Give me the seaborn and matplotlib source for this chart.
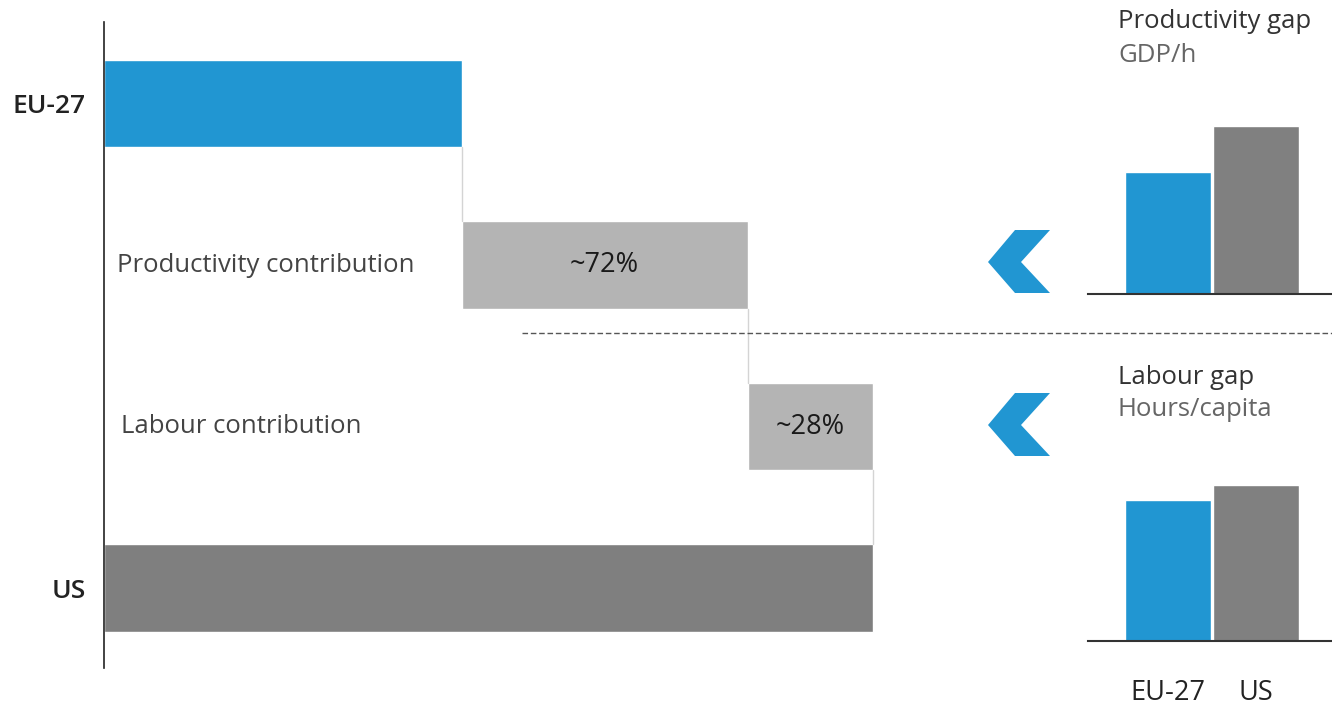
import numpy as np
import matplotlib.pyplot as plt
import seaborn as sns
from matplotlib.patches import Polygon

# waterfall: EU-27 -> US (US level = 100)
steps = ['EU-27', 'Productivity contribution', 'Labour contribution', 'US']
step_values = [46.5, 37.2, 16.3, 100.0]
step_labels = ['', '~72%', '~28%', '']

# small panels on the right
countries = ['EU-27', 'US']
gdp_per_hour = [72.6, 100.0]
hours_per_capita = [83.9, 92.9]

blue = '#2196d2'
dark_grey = '#808080'
light_grey = '#b4b4b4'

sns.set_theme(style='white')
plt.rcParams['font.family'] = ['Open Sans', 'DejaVu Sans']

W, H = 1332, 707
fig = plt.figure(figsize=(W / 100, H / 100), dpi=100)


def px_box(x0, y0, x1, y1):
    # pixel box (top-left origin) -> figure fraction
    return [x0 / W, 1 - y1 / H, (x1 - x0) / W, (y1 - y0) / H]


### waterfall
ax = fig.add_axes(px_box(104, 22, 1332, 668))
ax.patch.set_alpha(0)

lefts = [0, step_values[0], step_values[0] + step_values[1], 0]
colors = [blue, light_grey, light_grey, '#7f7f7f']
ypos = np.arange(len(steps))
bar_h = 0.54
ax.barh(ypos, step_values, left=lefts, height=bar_h, color=colors)

# thin connectors between steps
for i in range(len(steps) - 1):
    xe = lefts[i] + step_values[i]
    ax.plot([xe, xe], [i + bar_h / 2, i + 1 - bar_h / 2], color='#d4d4d4', lw=1)

for i, lab in enumerate(step_labels):
    if lab:
        ax.text(lefts[i] + step_values[i] / 2, i, lab, ha='center', va='center',
                fontsize=19.5, color='#1a1a1a')

ax.text(1.7, 1, steps[1], va='center', fontsize=18.5, color='#444444')
ax.text(2.2, 2, steps[2], va='center', fontsize=18.5, color='#444444')

ax.set_xlim(0, 1228 / 7.69)
ax.set_ylim(3.495, -0.505)
ax.set_xticks([])
ax.set_yticks([0, 3])
ax.set_yticklabels([steps[0], steps[3]], fontsize=19, color='#222222', fontweight='semibold')
ax.tick_params(axis='y', length=0, pad=13)
for s in ['top', 'right', 'bottom']:
    ax.spines[s].set_visible(False)
ax.spines['left'].set_color('#222222')
ax.spines['left'].set_linewidth(1.2)

### right panels
def small_bars(box, values, show_ticks):
    a = fig.add_axes(px_box(*box))
    sns.barplot(x=countries, y=values, hue=countries, palette=[blue, dark_grey],
                width=0.98, legend=False, ax=a, saturation=1)
    a.set_xlim(-0.909, 1.864)
    a.set_ylim(0, 119)
    a.set_yticks([])
    a.set_ylabel('')
    for s in ['top', 'right', 'left']:
        a.spines[s].set_visible(False)
    a.spines['bottom'].set_color('#333333')
    a.spines['bottom'].set_linewidth(1.5)
    if show_ticks:
        a.tick_params(axis='x', length=0, pad=27, labelsize=19.5, labelcolor='#222222')
    else:
        a.set_xticks([])
    a.patch.set_alpha(0)
    return a

small_bars((1088, 94, 1332, 294), gdp_per_hour, False)
small_bars((1088, 441, 1332, 641), hours_per_capita, True)

fig.text(1118 / W, 1 - 22 / H, 'Productivity gap', fontsize=18.5, color='#333333', va='center')
fig.text(1118 / W, 1 - 55 / H, 'GDP/h', fontsize=18.5, color='#666666', va='center')
fig.text(1118 / W, 1 - 377 / H, 'Labour gap', fontsize=18.5, color='#333333', va='center')
fig.text(1118 / W, 1 - 410 / H, 'Hours/capita', fontsize=18.5, color='#666666', va='center')

### chevrons + dashed separator
ov = fig.add_axes([0, 0, 1, 1])
ov.set_xlim(0, W)
ov.set_ylim(H, 0)
ov.axis('off')
for cy in [262, 425]:
    pts = [(1015, cy - 32), (1050, cy - 32), (1021, cy), (1050, cy + 31), (1015, cy + 31), (988, cy)]
    ov.add_patch(Polygon(pts, closed=True, color=blue, lw=0))
ov.plot([522, 1332], [333, 333], ls=(0, (4, 2)), color='#555555', lw=1)

plt.savefig('out.png', dpi=100)
